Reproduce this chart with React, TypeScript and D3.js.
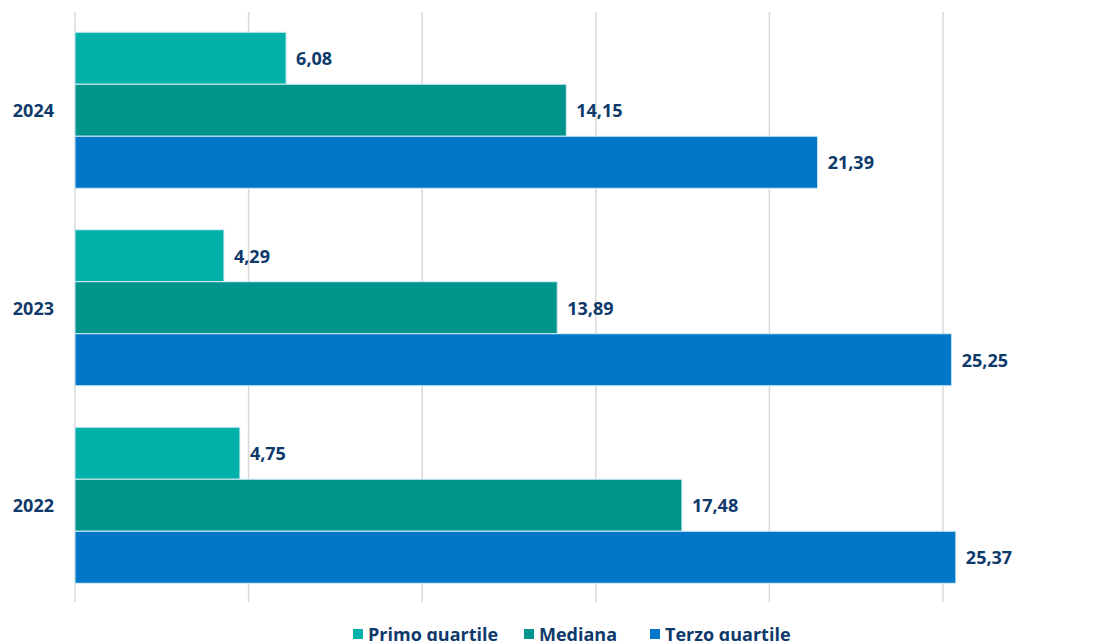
import React from "react";
import * as d3 from "d3";

const years = ["2024", "2023", "2022"];
const seriesNames = ["Primo quartile", "Mediana", "Terzo quartile"];
const primo = [6.08, 4.29, 4.75];
const mediana = [14.15, 13.89, 17.48];
const terzo = [21.39, 25.25, 25.37];
const xTicks = [0, 5, 10, 15, 20, 25];
const colors = ["#00B1A9", "#00958C", "#0077C8"];

const W = 1104;
const H = 641;
const FONT = "'Open Sans', 'DejaVu Sans', sans-serif";
const LABEL = "#0E3A6B";

export default function App() {
  const x = d3.scaleLinear().domain([0, 25]).range([75, 943]);
  const y = d3.scaleBand<string>().domain(years).range([11.5, 604]).paddingInner(0.21).paddingOuter(0.105);
  const ySub = d3.scaleBand<string>().domain(seriesNames).range([0, y.bandwidth()]);
  const values = [primo, mediana, terzo];
  const fmt = (v: number) => v.toFixed(2).replace(".", ",");

  const legendX = [353, 524, 650];

  return (
    <div style={{ position: "absolute", left: 0, top: 0, width: W, height: H, background: "#fff" }}>
      <svg width={W} height={H} style={{ display: "block" }}>
        <rect width={W} height={H} fill="#fff" />
        {xTicks.map((t) => (
          <line key={t} x1={x(t)} x2={x(t)} y1={12} y2={602} stroke="#d9d9d9" strokeWidth={1.5} />
        ))}
        {years.map((yr, i) => (
          <g key={yr}>
            <text
              x={54}
              y={(y(yr) as number) + y.bandwidth() / 2}
              textAnchor="end"
              dominantBaseline="central"
              fontFamily={FONT}
              fontWeight={700}
              fontSize={18}
              fill={LABEL}
            >
              {yr}
            </text>
            {seriesNames.map((s, j) => {
              const v = values[j][i];
              const by = (y(yr) as number) + (ySub(s) as number);
              return (
                <g key={s}>
                  <rect
                    x={x(0)}
                    y={by}
                    width={x(v) - x(0)}
                    height={ySub.bandwidth()}
                    fill={colors[j]}
                    stroke="#d6ecf4"
                    strokeWidth={1}
                  />
                  <text
                    x={x(v) + 10}
                    y={by + ySub.bandwidth() / 2}
                    dominantBaseline="central"
                    fontFamily={FONT}
                    fontWeight={700}
                    fontSize={18}
                    fill={LABEL}
                  >
                    {fmt(v)}
                  </text>
                </g>
              );
            })}
          </g>
        ))}
        {seriesNames.map((s, j) => (
          <g key={s}>
            <rect x={legendX[j]} y={629} width={10} height={10} fill={colors[j]} />
            <text
              x={legendX[j] + 15}
              y={641}
              fontFamily={FONT}
              fontWeight={700}
              fontSize={18}
              fill={LABEL}
            >
              {s}
            </text>
          </g>
        ))}
      </svg>
    </div>
  );
}
